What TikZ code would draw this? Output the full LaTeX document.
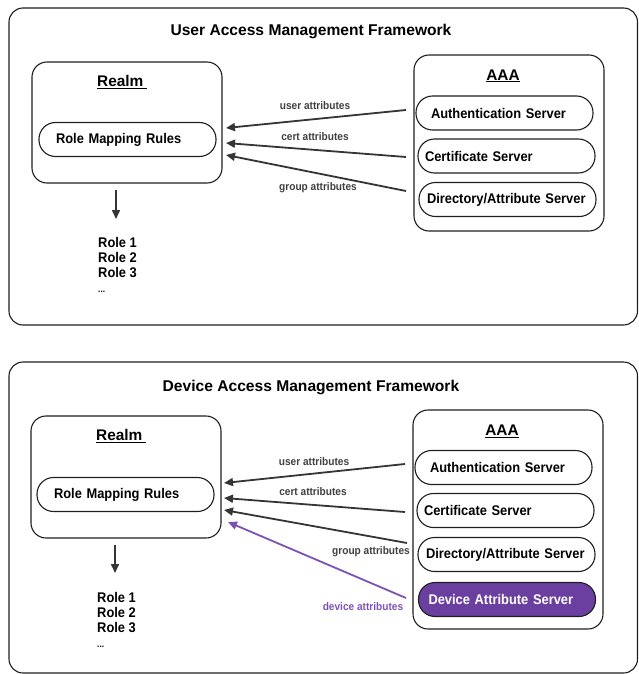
\documentclass[tikz,border=0pt]{standalone}
\usepackage{fontspec}
\setmainfont{Liberation Sans}
\newfontfamily\condsans[FakeStretch=0.92]{Liberation Sans}
\usetikzlibrary{arrows.meta}
\definecolor{ink}{RGB}{30,30,30}
\definecolor{devfill}{RGB}{107,63,160}
\definecolor{devline}{RGB}{125,82,182}
\begin{document}
\begin{tikzpicture}[x=1pt,y=-1pt,
  frame/.style={draw=ink, line width=1.1pt, rounded corners=14pt, inner sep=0pt},
  group/.style={draw=ink, line width=1.1pt, rounded corners=15pt, inner sep=0pt, minimum width=190pt},
  pill/.style={draw=ink, line width=1.1pt, rounded corners=16.5pt, minimum height=34pt, inner ysep=0pt,
    align=left, font=\condsans\fontsize{14}{16}\selectfont\bfseries},
  devpill/.style={pill, fill=devfill, draw=ink, text=white},
  ttl/.style={font=\fontsize{15.6}{18}\selectfont\bfseries, inner sep=0pt},
  hdr/.style={font=\fontsize{15.4}{18}\selectfont\bfseries, inner sep=0pt},
  lbl/.style={font=\condsans\fontsize{11}{12}\selectfont\bfseries, text=ink!85, inner sep=0pt},
  devlbl/.style={lbl, text=devline},
  roles/.style={font=\condsans\fontsize{14}{15}\selectfont\bfseries, align=left, inner sep=0pt, anchor=north west},
  flow/.style={draw=ink!90, line width=1.8pt, -{Triangle[length=9pt,width=8pt]}},
  devflow/.style={flow, draw=devline, fill=devline}
]
\useasboundingbox (0,0) rectangle (638,674);

% ================= top: user access =================
\node[frame, minimum width=628.5pt, minimum height=317pt] (frameU) at (323.25,166.5) {};
\node[ttl] (titleU) at (311,32) {User Access Management Framework};

\node[group, minimum height=121pt] (realmU) at (127,122.5) {};
\node[hdr] (realmTU) at (122,82) {\underline{Realm\hspace{3.5pt}}};
\node[pill, inner xsep=17pt, text width=143pt] (rmrU) at (127.5,139.5) {Role Mapping Rules};

\node[group, minimum height=176pt] (aaaU) at (509,143) {};
\node[hdr] (aaaTU) at (503,76) {\underline{AAA}};
\node[pill, inner xsep=15pt, text width=147pt] (authU) at (504.5,113) {Authentication Server};
\node[pill, inner xsep=7pt, text width=163pt] (certU) at (506.5,156) {Certificate Server};
\node[pill, inner xsep=8pt, text width=161pt] (dirU) at (507.5,199.5) {Directory/Attribute Server};

\coordinate (uUs) at (406,110);  \coordinate (uUe) at (226,128);
\coordinate (cUs) at (406,157);  \coordinate (cUe) at (226,143);
\coordinate (gUs) at (406,191);  \coordinate (gUe) at (226,155);
\draw[flow] (uUs) -- (uUe);
\draw[flow] (cUs) -- (cUe);
\draw[flow] (gUs) -- (gUe);
\node[lbl] (luU) at (315,106) {user attributes};
\node[lbl] (lcU) at (315,137) {cert attributes};
\node[lbl] (lgU) at (318,188) {group attributes};

\coordinate (dUs) at (116,190);
\draw[flow, line width=1.6pt] (dUs) -- (116,219);
\node[roles] (rolesU) at (98,237.5) {Role 1\\Role 2\\Role 3\\{\fontsize{9}{10}\selectfont ...}};

% ================= bottom: device access =================
\node[frame, minimum width=628.5pt, minimum height=311pt] (frameD) at (323.25,517.5) {};
\node[ttl] (titleD) at (311,387) {Device Access Management Framework};

\node[group, minimum height=122pt] (realmD) at (126,477) {};
\node[hdr] (realmTD) at (121,436) {\underline{Realm\hspace{3.5pt}}};
\node[pill, inner xsep=17pt, text width=143pt] (rmrD) at (125.5,494.5) {Role Mapping Rules};

\node[group, minimum height=219pt] (aaaD) at (508,519.5) {};
\node[hdr] (aaaTD) at (502,431) {\underline{AAA}};
\node[pill, inner xsep=15pt, text width=147pt] (authD) at (503.5,467.5) {Authentication Server};
\node[pill, inner xsep=7pt, text width=163pt] (certD) at (505.5,510.5) {Certificate Server};
\node[pill, inner xsep=8pt, text width=161pt] (dirD) at (506.5,554.5) {Directory/Attribute Server};
\node[devpill, inner xsep=10pt, text width=157pt] (devD) at (507,599.5) {Device Attribute Server};

\coordinate (uDs) at (405,464);  \coordinate (uDe) at (224,483);
\coordinate (cDs) at (405,512);  \coordinate (cDe) at (224,498);
\coordinate (gDs) at (407,543);  \coordinate (gDe) at (224,510);
\coordinate (vDs) at (406,598);  \coordinate (vDe) at (228,522);
\draw[flow] (uDs) -- (uDe);
\draw[flow] (cDs) -- (cDe);
\draw[flow] (gDs) -- (gDe);
\draw[devflow] (vDs) -- (vDe);
\node[lbl] (luD) at (314,462) {user attributes};
\node[lbl] (lcD) at (313,492) {cert attributes};
\node[lbl] (lgD) at (371,552) {group attributes};
\node[devlbl] (lvD) at (363,607) {device attributes};

\coordinate (dDs) at (115,545);
\draw[flow, line width=1.6pt] (dDs) -- (115,573);
\node[roles] (rolesD) at (97,592) {Role 1\\Role 2\\Role 3\\{\fontsize{9}{10}\selectfont ...}};
\end{tikzpicture}
\end{document}
